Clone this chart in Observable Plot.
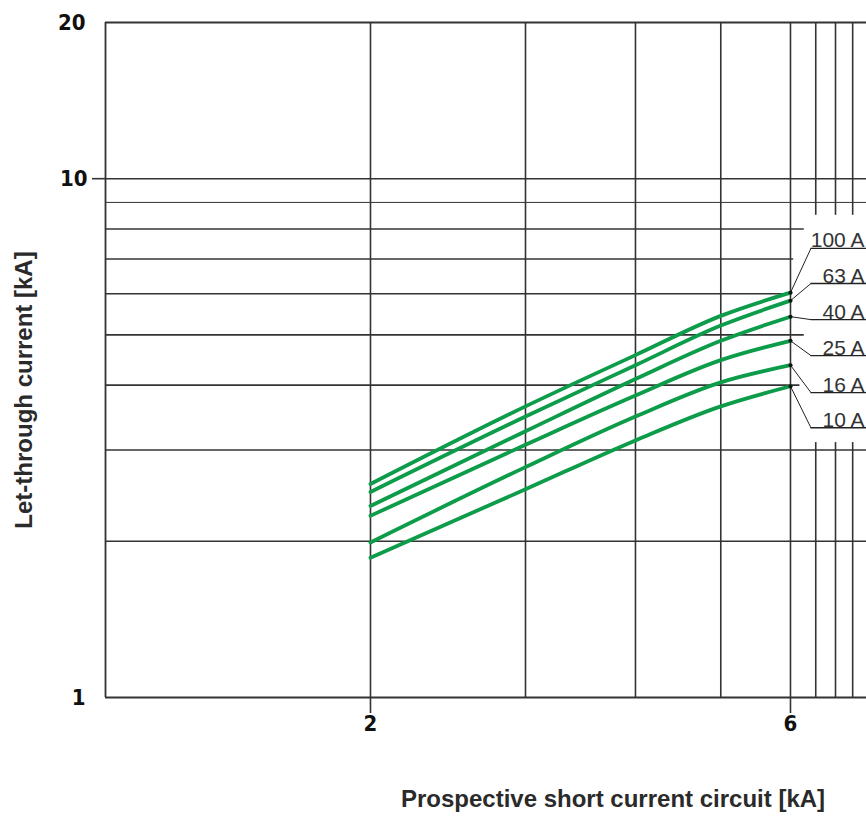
<!DOCTYPE html>
<html>
<head>
<meta charset="utf-8">
<script src="https://cdn.jsdelivr.net/npm/d3@7"></script>
<script src="https://cdn.jsdelivr.net/npm/@observablehq/plot@0.6"></script>
<style>
  html, body { margin: 0; padding: 0; background: #fff; overflow: hidden; }
  #chart svg { display: block; }
</style>
</head>
<body>
<div id="chart"></div>
<script>
// ---- data ----
const xTicks = [2, 6];
const yTicksMid = [10];
const yTicksEnds = [1, 20];
const gridX = [2, 3, 4, 5, 6];
const gridXBroken = [6.41, 6.75, 7.06];
const gridYFull = [2, 3, 9, 10];
const gridYShort = [4, 5, 6, 7, 8];
const gridYShortEnd = [6.15, 6.22, 6.0, 6.05, 6.22];

const xs = [2, 3, 4, 5, 6];
const ratings = ["100 A", "63 A", "40 A", "25 A", "16 A", "10 A"];
const i100 = [2.58, 3.64, 4.57, 5.44, 6.03];
const i63  = [2.49, 3.48, 4.37, 5.21, 5.82];
const i40  = [2.34, 3.26, 4.11, 4.87, 5.42];
const i25  = [2.24, 3.07, 3.82, 4.47, 4.87];
const i16  = [1.99, 2.78, 3.48, 4.05, 4.37];
const i10  = [1.86, 2.52, 3.13, 3.64, 3.98];
const labelLevels = [7.34, 6.28, 5.35, 4.56, 3.87, 3.31];

const series = [i100, i63, i40, i25, i16, i10];
const curveData = [];
series.forEach((vals, k) => vals.forEach((v, j) => curveData.push({rating: ratings[k], x: xs[j], y: v})));
const ends = series.map((vals, k) => ({rating: ratings[k], x: xs[xs.length - 1], y: vals[vals.length - 1], ly: labelLevels[k]}));

const X0 = 1, X1 = 7.32, Y0 = 1, Y1 = 20;
const LEAD = 6.33;
const gridColor = "#333";
const tickFont = {fontSize: 22, fontWeight: "bold", fontFamily: "DejaVu Sans Condensed", fill: "#111"};

const plot = Plot.plot({
  width: 866,
  height: 820,
  marginLeft: 105,
  marginRight: 0,
  marginTop: 22,
  marginBottom: 123,
  x: {type: "log", domain: [X0, X1], axis: null},
  y: {type: "log", domain: [Y0, Y1], axis: null},
  style: {fontFamily: "Liberation Sans, Arial, sans-serif", background: "#fff"},
  marks: [
    // frame edges
    Plot.ruleX([X0], {y1: Y0, y2: Y1, stroke: gridColor, strokeWidth: 1.8}),
    Plot.ruleY([Y0, Y1], {x1: X0, x2: X1, stroke: gridColor, strokeWidth: 1.8}),
    // vertical grid
    Plot.ruleX(gridX, {y1: Y0, y2: Y1, stroke: gridColor, strokeWidth: 1.6}),
    Plot.ruleX(gridXBroken, {y1: 8.5, y2: Y1, stroke: gridColor, strokeWidth: 1.6}),
    Plot.ruleX(gridXBroken, {y1: Y0, y2: 3.1, stroke: gridColor, strokeWidth: 1.6}),
    // horizontal grid
    Plot.ruleY(gridYFull, {x1: X0, x2: X1, stroke: gridColor, strokeWidth: d => d === 9 ? 1 : 1.6}),
    Plot.ruleY(gridYShort, {x1: X0, x2: (d, i) => gridYShortEnd[i], stroke: gridColor, strokeWidth: 1.6}),
    // curves
    Plot.line(curveData, {x: "x", y: "y", z: "rating", stroke: "#0c9c4a", strokeWidth: 3.8, curve: "monotone-x"}),
    // leaders
    Plot.link(ends, {x1: "x", y1: "y", x2: LEAD, y2: "ly", stroke: "#222", strokeWidth: 1}),
    Plot.ruleY(ends, {y: "ly", x1: LEAD, x2: X1, stroke: "#222", strokeWidth: 1.4}),
    Plot.dot(ends, {x: "x", y: "y", r: 2, fill: "#111"}),
    Plot.text(ends, {x: X1, y: "ly", text: "rating", textAnchor: "end", lineAnchor: "bottom", dx: -2, dy: -1,
      fontSize: 21, fill: "#333"}),
    // axes
    Plot.axisX(xTicks, {tickSize: 16, tickPadding: 2, tickFormat: d => String(d), label: null,
      stroke: gridColor, strokeWidth: 1.6, ...tickFont}),
    Plot.axisY(yTicksMid, {tickSize: 13, tickPadding: 5, tickFormat: d => String(d), label: null,
      stroke: gridColor, strokeWidth: 1.6, ...tickFont}),
    Plot.axisY(yTicksEnds, {tickSize: 0, tickPadding: 20, tickFormat: d => String(d), label: null, ...tickFont}),
    // titles
    Plot.text(["Prospective short current circuit [kA]"], {frameAnchor: "bottom", textAnchor: "middle", lineAnchor: "middle",
      dx: 127, dy: 102, fontSize: 24, fontWeight: "bold", fill: "#2a2a2a"}),
    Plot.text(["Let-through current [kA]"], {frameAnchor: "left", textAnchor: "middle", lineAnchor: "middle", rotate: -90,
      dx: -81, dy: 30, fontSize: 24, fontWeight: "bold", fill: "#2a2a2a"})
  ]
});
document.getElementById("chart").appendChild(plot);
</script>
</body>
</html>
